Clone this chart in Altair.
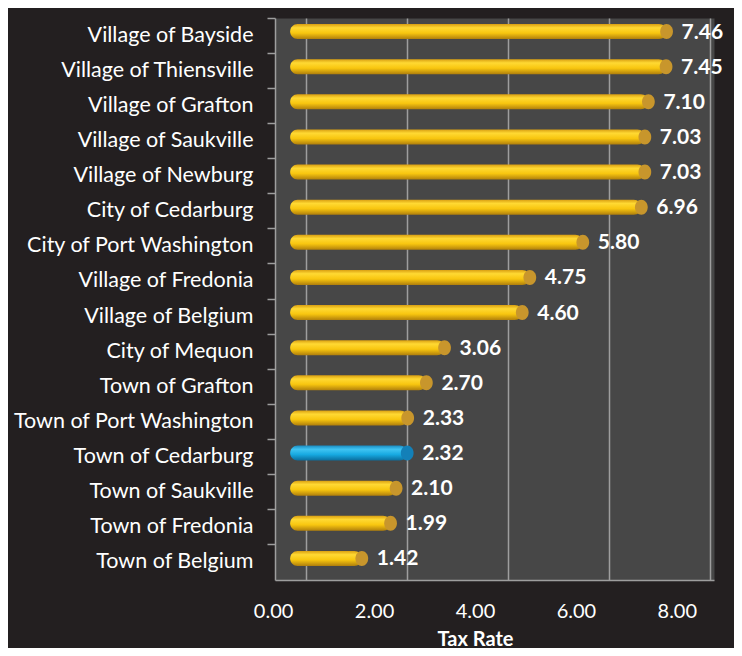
import altair as alt
import pandas as pd

categories = [
    "Village of Bayside", "Village of Thiensville", "Village of Grafton",
    "Village of Saukville", "Village of Newburg", "City of Cedarburg",
    "City of Port Washington", "Village of Fredonia", "Village of Belgium",
    "City of Mequon", "Town of Grafton", "Town of Port Washington",
    "Town of Cedarburg", "Town of Saukville", "Town of Fredonia", "Town of Belgium",
]
tax_rates = [7.46, 7.45, 7.10, 7.03, 7.03, 6.96, 5.80, 4.75, 4.60,
             3.06, 2.70, 2.33, 2.32, 2.10, 1.99, 1.42]
highlight = "Town of Cedarburg"
x_ticks = [0, 2, 4, 6, 8]

df = pd.DataFrame({"place": categories, "rate": tax_rates})
df["hl"] = ["yes" if p == highlight else "no" for p in categories]

FONT = "Lato"
GRID = "#9e9e9e"

gold = alt.Gradient(
    gradient="linear", x1=0, x2=0, y1=0, y2=1,
    stops=[
        alt.GradientStop(color="#d99f12", offset=0),
        alt.GradientStop(color="#ffd933", offset=0.25),
        alt.GradientStop(color="#f8c60f", offset=0.6),
        alt.GradientStop(color="#b07f0c", offset=1),
    ],
)
blue = alt.Gradient(
    gradient="linear", x1=0, x2=0, y1=0, y2=1,
    stops=[
        alt.GradientStop(color="#1a8cc2", offset=0),
        alt.GradientStop(color="#40c4f2", offset=0.25),
        alt.GradientStop(color="#17a9e1", offset=0.6),
        alt.GradientStop(color="#0b6c9c", offset=1),
    ],
)

ellipse = "M -0.85 0 A 0.85 1 0 1 1 0.85 0 A 0.85 1 0 1 1 -0.85 0 Z"

x_enc = alt.X(
    "rate:Q",
    scale=alt.Scale(domain=[-0.3, 8.4], nice=False, zero=False),
    axis=alt.Axis(
        values=x_ticks, format=".2f", grid=True, gridColor=GRID, gridWidth=1.5,
        tickOffset=16, labelOffset=-33, ticks=False,
        domain=True, domainColor=GRID, domainWidth=1.5,
        labelColor="white", labelFont=FONT, labelFontSize=20, labelPadding=21,
        title="Tax Rate", titleFont=FONT, titleFontSize=20, titleFontWeight="bold",
        titleColor="white", titleX=200, titlePadding=8,
    ),
)
y_enc = alt.Y(
    "place:N", sort=categories,
    scale=alt.Scale(paddingInner=0, paddingOuter=0),
    axis=alt.Axis(
        title=None, bandPosition=0, ticks=True, tickSize=8, tickColor=GRID,
        tickWidth=1.5, domainColor=GRID, domainWidth=1.5, grid=False,
        labelColor="white", labelFont=FONT, labelFontSize=21.5, labelPadding=14,
        labelLimit=320,
    ),
)

base = alt.Chart(df).encode(y=y_enc)

bars_gold = base.transform_filter(alt.datum.hl == "no").mark_bar(
    size=15, cornerRadius=7.5, color=gold, yOffset=-4
).encode(x=x_enc, x2=alt.datum(0))

bars_blue = base.transform_filter(alt.datum.hl == "yes").mark_bar(
    size=15, cornerRadius=7.5, color=blue, yOffset=-4
).encode(x=x_enc, x2=alt.datum(0))

caps = base.mark_point(
    shape=ellipse, size=225, filled=True, opacity=1, strokeWidth=0, yOffset=-4
).encode(
    x=x_enc,
    color=alt.Color("hl:N", scale=alt.Scale(domain=["no", "yes"], range=["#c8962c", "#1380b8"]), legend=None),
)

labels = base.mark_text(
    align="left", baseline="middle", dx=15, dy=-3, font=FONT, fontSize=21,
    fontWeight="bold", color="white",
).encode(x=x_enc, text=alt.Text("rate:Q", format=".2f"))

chart = alt.layer(bars_gold, bars_blue, caps, labels).properties(
    width=439, height=562,
    padding={"left": 267, "top": 10, "right": 20, "bottom": 68},
    autosize=alt.AutoSizeParams(type="none"),
    background="#231f20",
).configure_view(fill="#474747", stroke="transparent")

chart.save("out.html", embed_options={"renderer": "svg", "actions": False})
